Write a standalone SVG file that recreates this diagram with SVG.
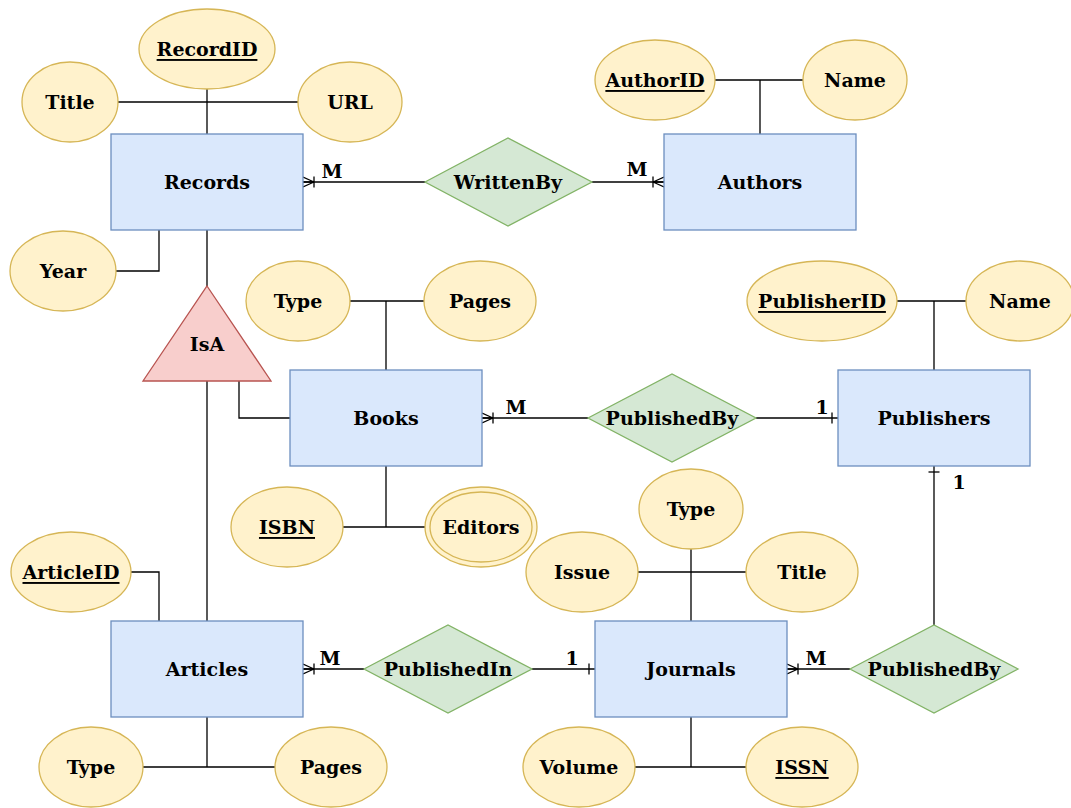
<svg xmlns="http://www.w3.org/2000/svg" width="1071" height="808" viewBox="0 0 1071 808">
<style>
text{font-family:"DejaVu Serif","Liberation Serif",serif;font-weight:bold;font-size:19px;fill:#000;text-anchor:middle;dominant-baseline:central}
.ent{fill:#dae8fc;stroke:#6c8ebf;stroke-width:1.3}
.rel{fill:#d5e8d4;stroke:#82b366;stroke-width:1.3}
.att{fill:#fff2cc;stroke:#d6b656;stroke-width:1.3}
.isa{fill:#f8cecc;stroke:#b85450;stroke-width:1.3}
.key{text-decoration:underline}
.ln{fill:none;stroke:#000;stroke-width:1.3}
</style>
<defs>
<marker id="many" viewBox="0 0 12 12" refX="12" refY="6" markerWidth="12" markerHeight="12" markerUnits="userSpaceOnUse" orient="auto">
<path d="M1,6 L12,1 M1,6 L12,6 M1,6 L12,11 M1,0.5 L1,11.5" fill="none" stroke="#000" stroke-width="1.3"/>
</marker>
<marker id="one" viewBox="0 0 12 12" refX="12" refY="6" markerWidth="12" markerHeight="12" markerUnits="userSpaceOnUse" orient="auto">
<path d="M6,0.5 L6,11.5" fill="none" stroke="#000" stroke-width="1.3"/>
</marker>
</defs>
<g id="connectors">
<path class="ln" d="M207,89 L207,134"/>
<path class="ln" d="M118,102 L298,102"/>
<path class="ln" d="M116,271 L159,271 L159,230"/>
<path class="ln" d="M207,230 L207,286"/>
<path class="ln" d="M207,381 L207,621"/>
<path class="ln" d="M239,381 L239,418 L290,418"/>
<path class="ln" d="M425,182 L303,182" marker-end="url(#many)"/>
<path class="ln" d="M592,182 L664,182" marker-end="url(#many)"/>
<path class="ln" d="M715,80 L803,80 M760,80 L760,134"/>
<path class="ln" d="M350,301 L424,301 M386,301 L386,370"/>
<path class="ln" d="M343,527 L425,527 M386,527 L386,466"/>
<path class="ln" d="M588,418 L482,418" marker-end="url(#many)"/>
<path class="ln" d="M756,418 L838,418" marker-end="url(#one)"/>
<path class="ln" d="M897,301 L966,301 M934,301 L934,370"/>
<path class="ln" d="M934,625 L934,466" marker-end="url(#one)"/>
<path class="ln" d="M850,669 L787,669" marker-end="url(#many)"/>
<path class="ln" d="M364,669 L303,669" marker-end="url(#many)"/>
<path class="ln" d="M532,669 L595,669" marker-end="url(#one)"/>
<path class="ln" d="M131,572 L159,572 L159,621"/>
<path class="ln" d="M143,767 L275,767 M207,767 L207,717"/>
<path class="ln" d="M691,549 L691,621 M638,572 L746,572"/>
<path class="ln" d="M635,767 L746,767 M691,767 L691,717"/>
<text x="332" y="171">M</text>
<text x="637" y="169">M</text>
<text x="516" y="407">M</text>
<text x="822" y="407">1</text>
<text x="959" y="482">1</text>
<text x="330" y="658">M</text>
<text x="572" y="658">1</text>
<text x="816" y="658">M</text>
</g>
<g id="records"><rect class="ent" x="111" y="134" width="192" height="96"/><text x="207" y="182">Records</text></g>
<g id="authors"><rect class="ent" x="664" y="134" width="192" height="96"/><text x="760" y="182">Authors</text></g>
<g id="books"><rect class="ent" x="290" y="370" width="192" height="96"/><text x="386" y="418">Books</text></g>
<g id="publishers"><rect class="ent" x="838" y="370" width="192" height="96"/><text x="934" y="418">Publishers</text></g>
<g id="articles"><rect class="ent" x="111" y="621" width="192" height="96"/><text x="207" y="669">Articles</text></g>
<g id="journals"><rect class="ent" x="595" y="621" width="192" height="96"/><text x="691" y="669">Journals</text></g>
<g id="writtenby"><polygon class="rel" points="425,182 508,138 592,182 508,226"/><text x="508" y="182">WrittenBy</text></g>
<g id="publishedby-books"><polygon class="rel" points="588,418 672,374 756,418 672,462"/><text x="672" y="418">PublishedBy</text></g>
<g id="publishedin"><polygon class="rel" points="364,669 448,625 532,669 448,713"/><text x="448" y="669">PublishedIn</text></g>
<g id="publishedby-journals"><polygon class="rel" points="850,669 934,625 1018,669 934,713"/><text x="934" y="669">PublishedBy</text></g>
<g id="isa"><polygon class="isa" points="207,286 271,381 143,381"/><text x="207" y="344">IsA</text></g>
<g id="recordid"><ellipse class="att" cx="207" cy="49" rx="68" ry="40"/><text class="key" x="207" y="49">RecordID</text></g>
<g id="title-records"><ellipse class="att" cx="70" cy="102" rx="48" ry="40"/><text x="70" y="102">Title</text></g>
<g id="url"><ellipse class="att" cx="350" cy="102" rx="52" ry="40"/><text x="350" y="102">URL</text></g>
<g id="year"><ellipse class="att" cx="63" cy="271" rx="53" ry="40"/><text x="63" y="271">Year</text></g>
<g id="authorid"><ellipse class="att" cx="655" cy="80" rx="60" ry="40"/><text class="key" x="655" y="80">AuthorID</text></g>
<g id="name-authors"><ellipse class="att" cx="855" cy="80" rx="52" ry="40"/><text x="855" y="80">Name</text></g>
<g id="type-books"><ellipse class="att" cx="298" cy="301" rx="52" ry="40"/><text x="298" y="301">Type</text></g>
<g id="pages-books"><ellipse class="att" cx="480" cy="301" rx="56" ry="40"/><text x="480" y="301">Pages</text></g>
<g id="publisherid"><ellipse class="att" cx="822" cy="301" rx="75" ry="40"/><text class="key" x="822" y="301">PublisherID</text></g>
<g id="name-publishers"><ellipse class="att" cx="1020" cy="301" rx="54" ry="40"/><text x="1020" y="301">Name</text></g>
<g id="isbn"><ellipse class="att" cx="287" cy="527" rx="56" ry="40"/><text class="key" x="287" y="527">ISBN</text></g>
<g id="editors"><ellipse class="att" cx="481" cy="527" rx="56" ry="40"/><ellipse class="att" cx="481" cy="527" rx="51" ry="35"/><text x="481" y="527">Editors</text></g>
<g id="articleid"><ellipse class="att" cx="71" cy="572" rx="60" ry="40"/><text class="key" x="71" y="572">ArticleID</text></g>
<g id="type-journals"><ellipse class="att" cx="691" cy="509" rx="52" ry="40"/><text x="691" y="509">Type</text></g>
<g id="issue"><ellipse class="att" cx="582" cy="572" rx="56" ry="40"/><text x="582" y="572">Issue</text></g>
<g id="title-journals"><ellipse class="att" cx="802" cy="572" rx="56" ry="40"/><text x="802" y="572">Title</text></g>
<g id="type-articles"><ellipse class="att" cx="91" cy="767" rx="52" ry="40"/><text x="91" y="767">Type</text></g>
<g id="pages-articles"><ellipse class="att" cx="331" cy="767" rx="56" ry="40"/><text x="331" y="767">Pages</text></g>
<g id="volume"><ellipse class="att" cx="579" cy="767" rx="56" ry="40"/><text x="579" y="767">Volume</text></g>
<g id="issn"><ellipse class="att" cx="802" cy="767" rx="56" ry="40"/><text class="key" x="802" y="767">ISSN</text></g>
</svg>
